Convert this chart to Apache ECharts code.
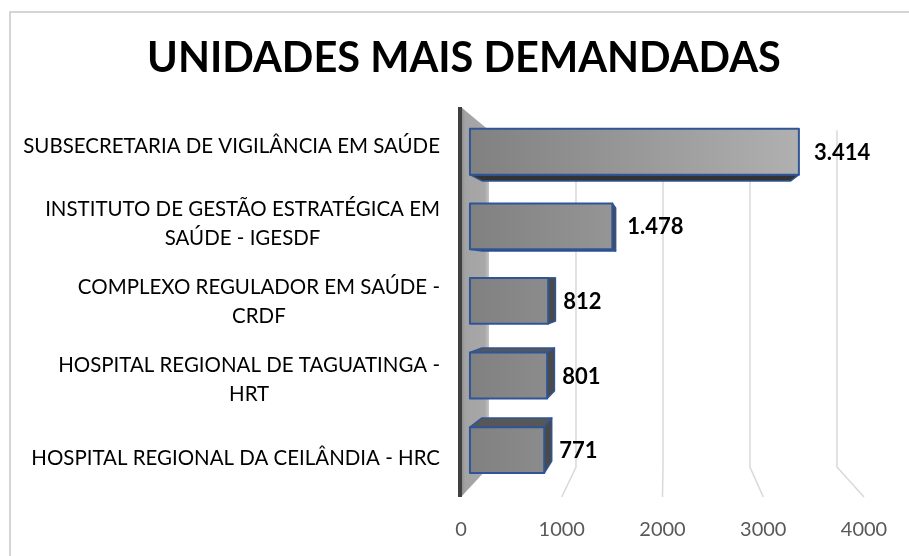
<!DOCTYPE html>
<html><head><meta charset="utf-8">
<script src="https://cdn.jsdelivr.net/npm/echarts@6/dist/echarts.min.js"></script>
<style>html,body{margin:0;padding:0;background:#fff}#c{width:909px;height:556px}</style>
</head><body><div id="c"></div>
<script>
// ---- data ----
const categories = [
  'SUBSECRETARIA DE VIGILÂNCIA EM SAÚDE',
  'INSTITUTO DE GESTÃO ESTRATÉGICA EM\nSAÚDE - IGESDF',
  'COMPLEXO REGULADOR EM SAÚDE -\nCRDF',
  'HOSPITAL REGIONAL DE TAGUATINGA -\nHRT',
  'HOSPITAL REGIONAL DA CEILÂNDIA - HRC'
];
const values = [3414, 1478, 812, 801, 771];
const xTicks = [0, 1000, 2000, 3000, 4000];
const chartTitle = 'UNIDADES MAIS DEMANDADAS';

// ---- style helpers ----
const FONT = 'Lato, "Noto Sans", sans-serif';
const mctx = document.createElement('canvas').getContext('2d');
function textW(s, font) { mctx.font = font; return mctx.measureText(s).width; }
function maxLineW(s, font) { return Math.max.apply(null, s.split('\n').map(l => textW(l, font))); }
const catSize = +(20 * 417 / textW(categories[0], '20px ' + FONT)).toFixed(2);
const titleSize = +(40 * 634 / textW(chartTitle, 'bold 40px ' + FONT)).toFixed(2);
const catFont = catSize + 'px ' + FONT;

const DEPTH = 0.1365;   // shrink of the back wall toward the vanishing point
const T_FRONT = 0.32, T_BACK = 0.75; // bar depth inside the box
function vp(cs) { return [cs.x + cs.width * 0.5087, cs.y + cs.height * 0.436]; }
function proj(V, x, y, t) { const s = 1 - t * DEPTH; return [V[0] + s * (x - V[0]), V[1] + s * (y - V[1])]; }
function fmt(v) { return String(v).replace(/\B(?=(\d{3})+(?!\d))/g, '.'); }

const BLUE = '#2f5597';

function renderGrid(params, api) {
  const cs = params.coordSys;
  const V = vp(cs);
  const v = api.value(0);
  const x = api.coord([v, 0])[0];
  const top = cs.y, bot = cs.y + cs.height;
  const bt = proj(V, x, top, 1), bb = proj(V, x, bot, 1);
  if (v === 0) {
    return { type: 'group', children: [
      { type: 'polygon', shape: { points: [[x, top], bt, bb, [x, bot]] },
        style: { fill: { type: 'linear', x: 0, y: 0, x2: 1, y2: 0, colorStops: [
          { offset: 0, color: '#8c8c8c' }, { offset: 0.15, color: '#a3a3a3' },
          { offset: 0.85, color: '#a8a8a8' }, { offset: 1, color: '#c4c4c4' }] } } },
      { type: 'line', shape: { x1: x - 1, y1: top, x2: x - 1, y2: bot },
        style: { stroke: '#404040', lineWidth: 4 } }
    ]};
  }
  return { type: 'polyline', shape: { points: [bt, bb, [x, bot]] },
    style: { stroke: '#d9d9d9', lineWidth: 1.5, fill: null } };
}

function renderBar(params, api) {
  const cs = params.coordSys;
  const V = vp(cs);
  const v = api.value(0), idx = api.value(1);
  const p0 = api.coord([0, idx]), p1 = api.coord([v, idx]);
  const band = api.size([0, 1])[1];
  const h = band * 0.615;
  const x0 = p0[0], x1 = p1[0], y0 = p0[1] - h / 2, y1 = p0[1] + h / 2;
  const F = [proj(V, x0, y0, T_FRONT), proj(V, x1, y0, T_FRONT), proj(V, x1, y1, T_FRONT), proj(V, x0, y1, T_FRONT)];
  const B = [proj(V, x0, y0, T_BACK), proj(V, x1, y0, T_BACK), proj(V, x1, y1, T_BACK), proj(V, x0, y1, T_BACK)];
  const ch = [];
  const sideStyle = (c) => ({ fill: c, stroke: BLUE, lineWidth: 1.5, lineJoin: 'round' });
  if (y1 < V[1]) ch.push({ type: 'polygon', shape: { points: [F[3], F[2], B[2], B[3]] }, style: sideStyle('#333333') });
  if (y0 > V[1]) ch.push({ type: 'polygon', shape: { points: [F[0], F[1], B[1], B[0]] }, style: sideStyle('#575757') });
  if (x1 < V[0]) ch.push({ type: 'polygon', shape: { points: [F[1], F[2], B[2], B[1]] }, style: sideStyle('#4a4a4a') });
  ch.push({ type: 'polygon', shape: { points: F }, style: {
    fill: { type: 'linear', global: true, x: cs.x, y: 0, x2: cs.x + cs.width, y2: 0,
      colorStops: [{ offset: 0, color: '#7f7f7f' }, { offset: 1, color: '#bababa' }] },
    stroke: BLUE, lineWidth: 2, lineJoin: 'round' } });
  ch.push({ type: 'text', style: { text: fmt(v), x: F[1][0] + 15, y: (F[1][1] + F[2][1]) / 2 + 1,
    font: 'bold 22px ' + FONT, fill: '#000', align: 'left', verticalAlign: 'middle' } });
  const label = categories[idx];
  const w = maxLineW(label, catFont);
  ch.push({ type: 'text', style: { text: label, x: cs.x - 21 - w / 2, y: p0[1],
    font: catFont, fill: '#000', align: 'center', verticalAlign: 'middle', lineHeight: 29 } });
  return { type: 'group', children: ch };
}

const chart = echarts.init(document.getElementById('c'), null, { renderer: 'canvas' });
chart.setOption({
  backgroundColor: '#fff',
  animation: false,
  graphic: [
    { type: 'rect', shape: { x: 10, y: 12, width: 1000, height: 1000 },
      style: { fill: null, stroke: '#c8c8c8', lineWidth: 1.5 }, z: 0 },
    { type: 'text', x: 464, y: 59, style: { text: chartTitle, font: 'bold ' + titleSize + 'px ' + FONT,
      fill: '#000', align: 'center', verticalAlign: 'middle' } }
  ],
  grid: { left: 461, right: 45, top: 107, bottom: 59, containLabel: false },
  xAxis: {
    type: 'value', min: 0, max: 4000, interval: 1000,
    axisLine: { show: false }, axisTick: { show: false }, splitLine: { show: false },
    axisLabel: { color: '#595959', fontFamily: FONT, fontSize: 20, margin: 23,
      formatter: v => String(v) }
  },
  yAxis: {
    type: 'category', data: categories, inverse: true,
    axisLine: { show: false }, axisTick: { show: false }, axisLabel: { show: false }, splitLine: { show: false }
  },
  series: [
    { type: 'custom', name: 'grid', renderItem: renderGrid, data: xTicks.map(v => [v, 0]),
      encode: { x: 0, y: 1 }, silent: true, z: 1, clip: false },
    { type: 'custom', name: 'bars', renderItem: renderBar, data: values.map((v, i) => [v, i]),
      encode: { x: 0, y: 1 }, z: 2, clip: false }
  ]
});
</script>
</body></html>
